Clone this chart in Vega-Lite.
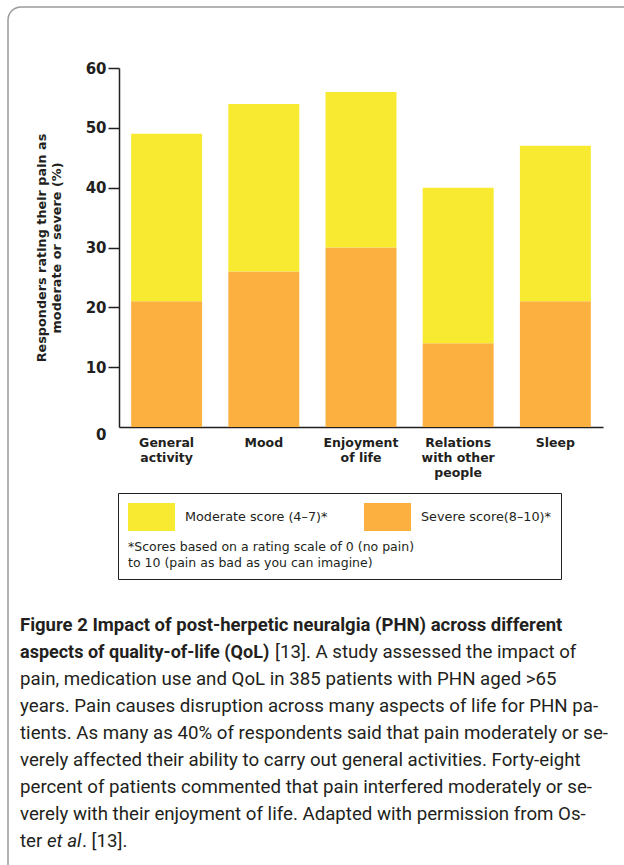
{
  "$schema": "https://vega.github.io/schema/vega-lite/v6.json",
  "width": 484,
  "height": 359,
  "autosize": {"type": "none"},
  "padding": {"left": 119, "top": 68, "right": 21, "bottom": 438},
  "background": "white",
  "config": {"view": {"stroke": null}, "font": "DejaVu Sans"},
  "layer": [
    {
      "data": {"values": [{}]},
      "mark": {"type": "rect", "x": -111, "y": -61, "x2": 530, "y2": 840, "cornerRadius": 13, "filled": false, "stroke": "#9b9b9b", "strokeWidth": 1.5},
      "encoding": {}
    },
    {
      "data": {
        "values": [
          {"aspect": "General activity", "score": "Severe score(8–10)*", "value": 21},
          {"aspect": "General activity", "score": "Moderate score (4–7)*", "value": 28},
          {"aspect": "Mood", "score": "Severe score(8–10)*", "value": 26},
          {"aspect": "Mood", "score": "Moderate score (4–7)*", "value": 28},
          {"aspect": "Enjoyment of life", "score": "Severe score(8–10)*", "value": 30},
          {"aspect": "Enjoyment of life", "score": "Moderate score (4–7)*", "value": 26},
          {"aspect": "Relations with other people", "score": "Severe score(8–10)*", "value": 14},
          {"aspect": "Relations with other people", "score": "Moderate score (4–7)*", "value": 26},
          {"aspect": "Sleep", "score": "Severe score(8–10)*", "value": 21},
          {"aspect": "Sleep", "score": "Moderate score (4–7)*", "value": 26}
        ]
      },
      "mark": {"type": "bar"},
      "encoding": {
        "x": {
          "field": "aspect", "type": "nominal", "sort": null,
          "scale": {"paddingInner": 0.27, "paddingOuter": 0.125},
          "axis": {
            "title": null, "ticks": false, "domainColor": "#231F20", "domainWidth": 1.5,
            "labelAngle": 0, "labelFont": "DejaVu Sans", "labelFontWeight": "bold", "labelFontSize": 12.5,
            "labelColor": "#231F20", "labelPadding": 9, "labelLineHeight": 15, "labelBaseline": "top", "labelLimit": 0,
            "labelExpr": "datum.value == 'General activity' ? ['General', 'activity'] : datum.value == 'Enjoyment of life' ? ['Enjoyment', 'of life'] : datum.value == 'Relations with other people' ? ['Relations', 'with other', 'people'] : datum.value"
          }
        },
        "y": {
          "field": "value", "type": "quantitative", "stack": "zero",
          "scale": {"domain": [0, 60], "nice": false},
          "axis": {
            "values": [0, 10, 20, 30, 40, 50, 60], "grid": false,
            "tickSize": 11, "tickWidth": 1.5, "tickColor": "#231F20",
            "domainColor": "#231F20", "domainWidth": 1.5,
            "labelFont": "DejaVu Sans", "labelFontWeight": "bold", "labelFontSize": 15, "labelColor": "#231F20", "labelPadding": 2,
            "labelBaseline": {"condition": {"test": "datum.value === 0", "value": "top"}, "value": "middle"},
            "tickOpacity": {"condition": {"test": "datum.value === 0", "value": 0}, "value": 1},
            "title": ["Responders rating their pain as", "moderate or severe (%)"],
            "titleFont": "DejaVu Sans", "titleFontWeight": "bold", "titleFontSize": 12.8, "titleColor": "#231F20",
            "titleLineHeight": 15, "titlePadding": 22
          }
        },
        "color": {
          "field": "score", "type": "nominal",
          "scale": {"domain": ["Moderate score (4–7)*", "Severe score(8–10)*"], "range": ["#F7EA30", "#FBB040"]},
          "legend": {
            "orient": "none", "legendX": -1, "legendY": 425, "direction": "horizontal",
            "title": ["*Scores based on a rating scale of 0 (no pain)", "to 10 (pain as bad as you can imagine)"],
            "titleOrient": "bottom", "titleAnchor": "start", "titleAlign": "left",
            "titleFont": "DejaVu Sans", "titleFontWeight": "normal", "titleFontSize": 12.5, "titleLineHeight": 15.5,
            "titleColor": "#231F20", "titlePadding": 10, "titleLimit": 0,
            "symbolType": "M-1,-1H2.357V1H-1Z", "symbolSize": 784, "symbolStrokeWidth": 0, "symbolOpacity": 1,
            "labelFont": "DejaVu Sans", "labelFontSize": 12.8, "labelColor": "#231F20", "labelOffset": 29, "labelLimit": 0,
            "columnPadding": 36, "padding": 10, "strokeColor": "#231F20", "fillColor": "white"
          }
        },
        "order": {"field": "score", "sort": "descending"}
      }
    },
    {
      "data": {"values": [{}]},
      "mark": {"type": "text", "text": "Figure 2 Impact of post-herpetic neuralgia (PHN) across different", "x": -99, "y": 563, "align": "left", "baseline": "alphabetic", "font": "Roboto", "fontWeight": "bold", "fontSize": 18.5, "color": "#231F20"},
      "encoding": {}
    },
    {
      "data": {"values": [{}]},
      "mark": {"type": "text", "text": "aspects of quality-of-life (QoL)", "x": -99, "y": 590, "align": "left", "baseline": "alphabetic", "font": "Roboto", "fontWeight": "bold", "fontSize": 18, "color": "#231F20"},
      "encoding": {}
    },
    {
      "data": {"values": [{}]},
      "mark": {"type": "text", "text": "[13]. A study assessed the impact of", "x": 156, "y": 590, "align": "left", "baseline": "alphabetic", "font": "Roboto", "fontSize": 18.7, "color": "#231F20"},
      "encoding": {}
    },
    {
      "data": {"values": [{}]},
      "mark": {"type": "text", "text": ["pain, medication use and QoL in 385 patients with PHN aged >65", "years. Pain causes disruption across many aspects of life for PHN pa-", "tients. As many as 40% of respondents said that pain moderately or se-", "verely affected their ability to carry out general activities. Forty-eight", "percent of patients commented that pain interfered moderately or se-", "verely with their enjoyment of life. Adapted with permission from Os-"], "x": -99, "y": 617, "align": "left", "baseline": "alphabetic", "font": "Roboto", "fontSize": 18.7, "lineHeight": 27, "color": "#231F20"},
      "encoding": {}
    },
    {
      "data": {"values": [{}]},
      "mark": {"type": "text", "text": "ter", "x": -99, "y": 779, "align": "left", "baseline": "alphabetic", "font": "Roboto", "fontSize": 18.7, "color": "#231F20"},
      "encoding": {}
    },
    {
      "data": {"values": [{}]},
      "mark": {"type": "text", "text": "et al", "x": -72, "y": 779, "align": "left", "baseline": "alphabetic", "font": "Roboto", "fontStyle": "italic", "fontSize": 18.7, "color": "#231F20"},
      "encoding": {}
    },
    {
      "data": {"values": [{}]},
      "mark": {"type": "text", "text": ". [13].", "x": -37, "y": 779, "align": "left", "baseline": "alphabetic", "font": "Roboto", "fontSize": 18.7, "color": "#231F20"},
      "encoding": {}
    }
  ]
}
